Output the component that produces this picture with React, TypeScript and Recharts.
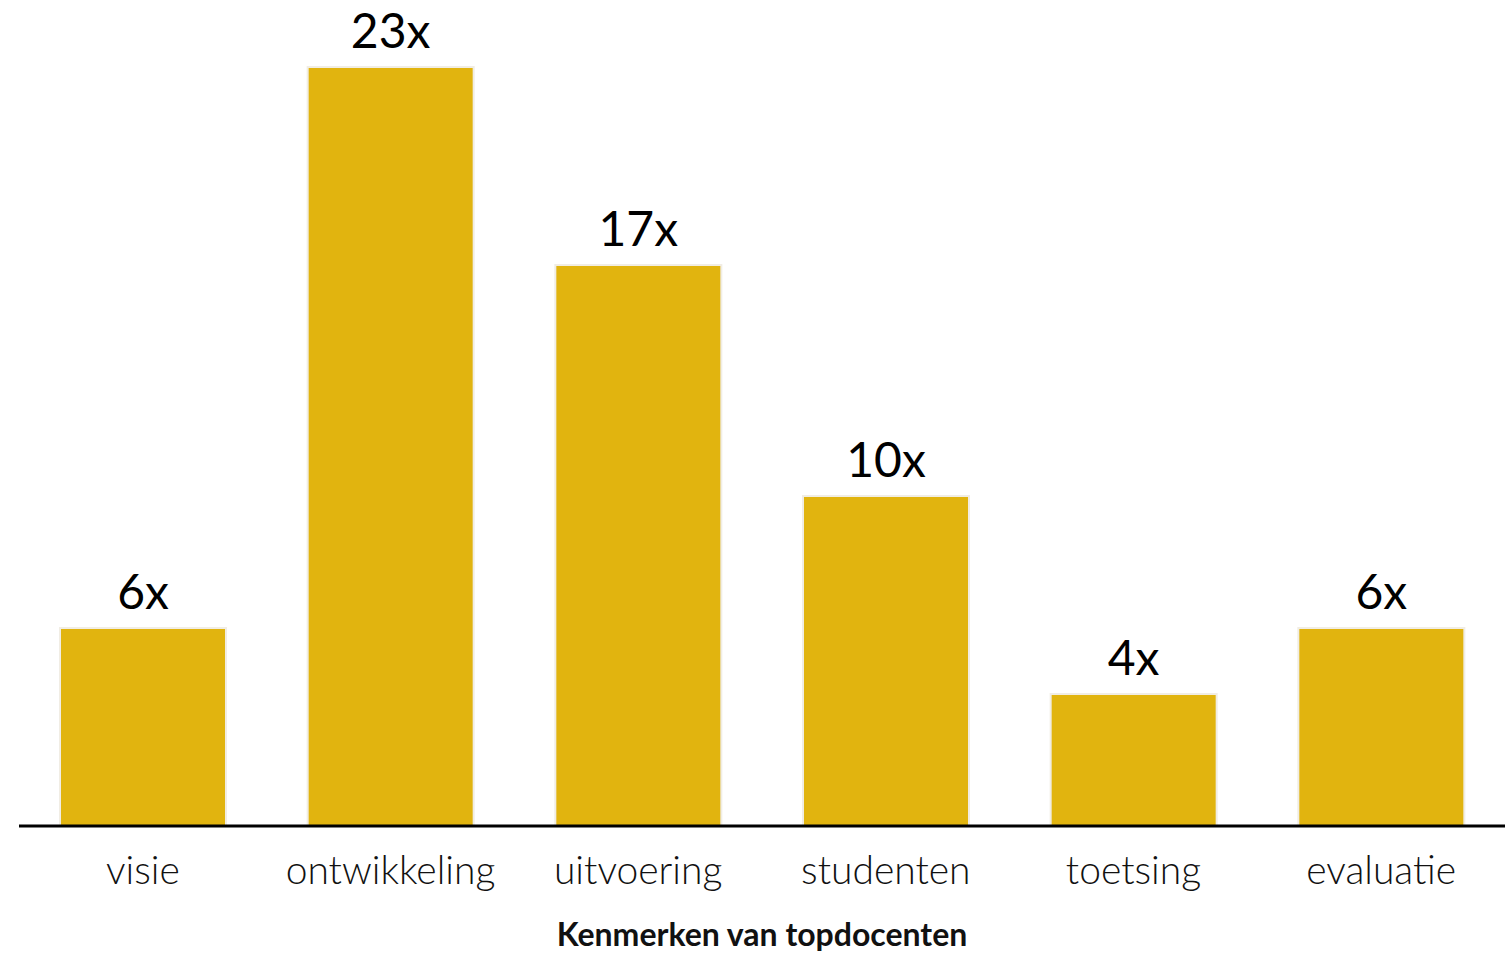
import { BarChart, Bar, XAxis, YAxis, LabelList } from "recharts";

const kenmerken = ["visie", "ontwikkeling", "uitvoering", "studenten", "toetsing", "evaluatie"];
const aantal = [6, 23, 17, 10, 4, 6];

const data = kenmerken.map((naam, i) => ({ naam, aantal: aantal[i] }));

export default function App() {
  return (
    <div
      style={{
        position: "absolute",
        left: 0,
        top: 0,
        width: 1510,
        height: 954,
        background: "#fff",
        fontFamily: "Lato, 'Open Sans', sans-serif",
      }}
    >
      <BarChart
        width={1510}
        height={954}
        data={data}
        margin={{ top: 67, right: 5, bottom: 6, left: 19 }}
        barCategoryGap={41}
      >
        <XAxis
          dataKey="naam"
          axisLine={{ stroke: "#000", strokeWidth: 3 }}
          tickLine={false}
          tickMargin={24}
          height={122}
          tick={{ fill: "#111", fontSize: 39, fontWeight: 300 }}
          label={{
            value: "Kenmerken van topdocenten",
            position: "insideBottom",
            offset: 2,
            fill: "#111",
            fontSize: 32,
            fontWeight: 700,
          }}
        />
        <YAxis hide domain={[0, 23]} />
        <Bar
          dataKey="aantal"
          fill="#E1B40F"
          stroke="#F1EDE4"
          strokeWidth={2}
          isAnimationActive={false}
        >
          <LabelList
            dataKey="aantal"
            position="top"
            offset={19}
            formatter={(v: any) => `${v}x`}
            style={{ fill: "#000", fontSize: 48, fontWeight: 400 }}
          />
        </Bar>
      </BarChart>
    </div>
  );
}
